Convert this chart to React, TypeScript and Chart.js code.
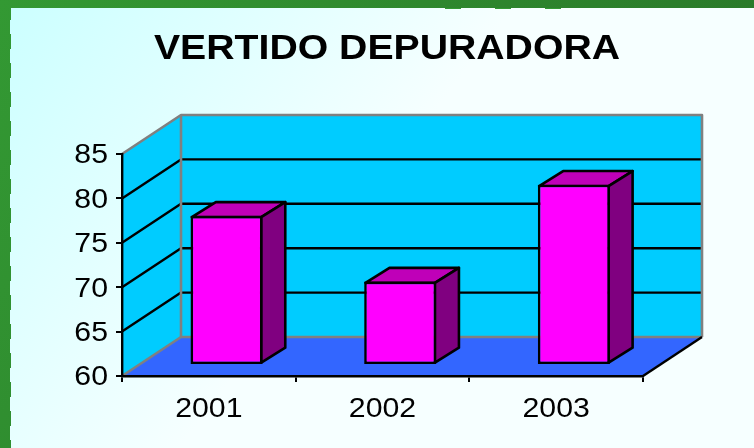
import React, { useEffect, useRef } from "react";
import { Chart, registerables } from "chart.js";

Chart.register(...registerables);

const title = "VERTIDO DEPURADORA";
const years = ["2001", "2002", "2003"];
const vertido = [76.8, 69.4, 80.3];
const yMin = 60;
const yMax = 85;
const yStep = 5;

const FONT = "'Liberation Sans', Arial, sans-serif";
const STRETCH = 1.12;
const WALL_DX = 59;
const WALL_DY = -39;
const BAR_DX = 17.7;
const BAR_DY = -11;
const SIDE_DX = 24;
const SIDE_DY = -15;
const WALL = "#00ccff";
const FLOOR = "#3366ff";
const GREY = "#808080";
const BAR = "#ff00ff";
const BAR_TOP = "#bf00b8";
const BAR_SIDE = "#800080";

function poly(ctx: CanvasRenderingContext2D, pts: number[][], fill?: string, stroke?: string, lw = 2.4) {
  ctx.beginPath();
  pts.forEach((p, i) => (i ? ctx.lineTo(p[0], p[1]) : ctx.moveTo(p[0], p[1])));
  if (fill) {
    ctx.closePath();
    ctx.fillStyle = fill;
    ctx.fill();
  }
  if (stroke) {
    ctx.strokeStyle = stroke;
    ctx.lineWidth = lw;
    ctx.lineJoin = "round";
    ctx.stroke();
  }
}

const scene3d = {
  id: "scene3d",
  afterLayout(chart: any) {
    chart.titleBlock.left = 20;
    chart.titleBlock.right = 754;
  },
  beforeDraw(chart: any) {
    const ctx: CanvasRenderingContext2D = chart.ctx;
    const { width, height } = chart;
    const { left, right, top, bottom } = chart.chartArea;
    const dx = WALL_DX;
    const dy = WALL_DY;
    ctx.save();
    // page backdrop
    const green = ctx.createLinearGradient(0, 0, 754, 448);
    green.addColorStop(0, "#339933");
    green.addColorStop(1, "#277027");
    ctx.fillStyle = green;
    ctx.fillRect(0, 0, width, height);
    const paper = ctx.createLinearGradient(11, 8, 330, 250);
    paper.addColorStop(0, "#ccffff");
    paper.addColorStop(1, "#f6ffff");
    ctx.fillStyle = paper;
    ctx.fillRect(11, 8, width - 11, height - 8);
    for (let y = 20; y < height; y += 29) ctx.fillRect(10, y, 1, 14);
    ctx.fillStyle = "#339933";
    for (const x of [445, 495, 545]) ctx.fillRect(x, 8, 16, 1);

    // walls and floor
    poly(ctx, [[left, top], [left + dx, top + dy], [left + dx, bottom + dy], [left, bottom]], WALL);
    poly(ctx, [[left + dx, top + dy], [right + dx, top + dy], [right + dx, bottom + dy], [left + dx, bottom + dy]], WALL);
    poly(ctx, [[left, bottom], [left + dx, bottom + dy], [right + dx, bottom + dy], [right, bottom]], FLOOR);

    // gridlines on the walls
    const y = chart.scales.y;
    for (const t of y.ticks) {
      if (t.value === yMin || t.value === yMax) continue;
      const py = y.getPixelForValue(t.value);
      poly(ctx, [[left, py], [left + dx, py + dy], [right + dx, py + dy]], undefined, "#000000");
    }
    // grey wall edges
    poly(ctx, [[left, top], [left + dx, top + dy], [right + dx, top + dy], [right + dx, bottom + dy]], undefined, GREY, 2.6);
    poly(ctx, [[left + dx, top + dy], [left + dx, bottom + dy]], undefined, GREY, 2.6);
    poly(ctx, [[left, bottom], [left + dx, bottom + dy], [right + dx, bottom + dy]], undefined, GREY, 2.6);
    // floor front-right edge
    poly(ctx, [[right, bottom], [right + dx, bottom + dy]], undefined, "#000000");
    ctx.restore();
  },
  beforeDatasetDraw(chart: any, args: any) {
    const ctx: CanvasRenderingContext2D = chart.ctx;
    ctx.save();
    ctx.translate(BAR_DX, BAR_DY);
    for (const bar of args.meta.data) {
      const l = bar.x - bar.width / 2 + 1.3;
      const r = bar.x + bar.width / 2 - 1.3;
      const t = bar.y + 1.3;
      const b = bar.base - 1.3;
      poly(ctx, [[l, t], [l + SIDE_DX, t + SIDE_DY], [r + SIDE_DX, t + SIDE_DY], [r, t]], BAR_TOP, "#000000", 2.6);
      poly(ctx, [[r, t], [r + SIDE_DX, t + SIDE_DY], [r + SIDE_DX, b + SIDE_DY], [r, b]], BAR_SIDE, "#000000", 2.6);
    }
  },
  afterDatasetDraw(chart: any) {
    chart.ctx.restore();
  },
};

export default function App() {
  const ref = useRef<HTMLCanvasElement>(null);
  useEffect(() => {
    const canvas = ref.current!;
    const ctx = canvas.getContext("2d")!;
    // The reference's lettering is widened horizontally
    const rawFill = ctx.fillText.bind(ctx);
    ctx.fillText = (text: string, x: number, y: number, maxWidth?: number) => {
      ctx.save();
      ctx.translate(x, y + 2);
      ctx.scale(STRETCH, 1);
      rawFill(text, 0, 0);
      ctx.restore();
    };
    const chart = new Chart(canvas, {
      type: "bar",
      data: {
        labels: years,
        datasets: [
          {
            label: "Vertido",
            data: vertido,
            base: yMin,
            backgroundColor: BAR,
            borderColor: "#000000",
            borderWidth: 2.6,
            borderSkipped: false,
            barPercentage: 0.415,
            categoryPercentage: 1,
            clip: false,
          },
        ],
      },
      options: {
        responsive: false,
        animation: false,
        layout: { padding: { left: 0, right: 111, top: 0, bottom: 0 } },
        plugins: {
          legend: { display: false },
          tooltip: { enabled: false },
          title: {
            display: true,
            text: title,
            color: "#000000",
            font: { family: FONT, size: 35, weight: "bold", lineHeight: 1 },
            padding: { top: 30, bottom: 89 },
          },
        },
        scales: {
          x: {
            offset: true,
            border: { color: "#000000", width: 2.4 },
            grid: { drawOnChartArea: false, drawTicks: true, tickLength: 6, color: "#000000", lineWidth: 2 },
            ticks: { color: "#000000", font: { family: FONT, size: 27 }, padding: 9, maxRotation: 0 },
            afterFit: (s: any) => {
              s.height = 72;
            },
          },
          y: {
            min: yMin,
            max: yMax,
            border: { color: "#000000", width: 2.4 },
            grid: { drawOnChartArea: false, drawTicks: true, tickLength: 6, color: "#000000", lineWidth: 2 },
            ticks: { stepSize: yStep, color: "#000000", font: { family: FONT, size: 27 }, padding: 8 },
            afterFit: (s: any) => {
              s.width = 122;
            },
          },
        },
      },
      plugins: [scene3d],
    } as any);
    return () => chart.destroy();
  }, []);
  return (
    <div style={{ position: "fixed", left: 0, top: 0, width: 754, height: 448 }}>
      <canvas ref={ref} width={754} height={448} style={{ display: "block" }} />
    </div>
  );
}
